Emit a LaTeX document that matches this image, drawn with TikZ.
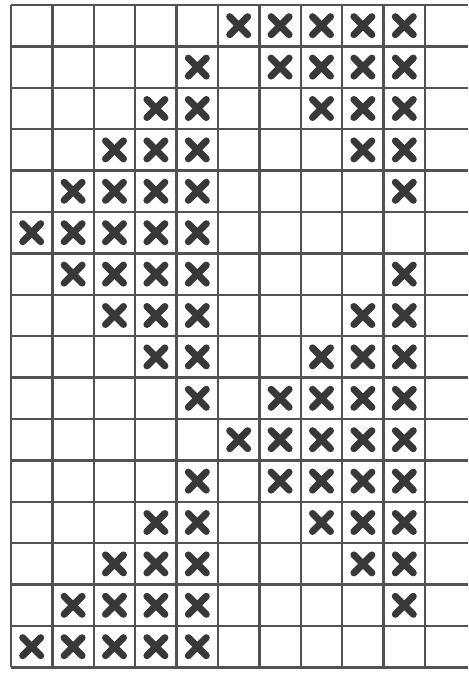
\documentclass[tikz,border=0pt]{standalone}
\begin{document}
\begin{tikzpicture}[x=1pt,y=-1pt,
  gridline/.style={draw=black!68, line width=2.3pt},
  xmark/.style={draw=black!78, line width=7pt, line cap=round}]
\useasboundingbox (0,0) rectangle (468,676);
\fill[white] (0,0) rectangle (468,676);
% grid
\foreach \i in {0,...,10} \draw[gridline] ({11+\i*41.4},5) -- ({11+\i*41.4},667);
\foreach \j in {0,...,16} \draw[gridline] (11,{5+\j*41.4}) -- (468,{5+\j*41.4});
% crosses
\foreach \r/\cols in {0/{5,6,7,8,9},1/{4,6,7,8,9},2/{3,4,7,8,9},3/{2,3,4,8,9},
  4/{1,2,3,4,9},5/{0,1,2,3,4},6/{1,2,3,4,9},7/{2,3,4,8,9},8/{3,4,7,8,9},
  9/{4,6,7,8,9},10/{5,6,7,8,9},11/{4,6,7,8,9},12/{3,4,7,8,9},13/{2,3,4,8,9},
  14/{1,2,3,4,9},15/{0,1,2,3,4}}{
  \foreach \c in \cols {
    \coordinate (m\r-\c) at ({11+(\c+0.5)*41.4},{5+(\r+0.5)*41.4});
    \draw[xmark] ([shift={(-9,-9)}]m\r-\c) -- ([shift={(9,9)}]m\r-\c);
    \draw[xmark] ([shift={(-9,9)}]m\r-\c) -- ([shift={(9,-9)}]m\r-\c);
  }
}
\end{tikzpicture}
\end{document}
